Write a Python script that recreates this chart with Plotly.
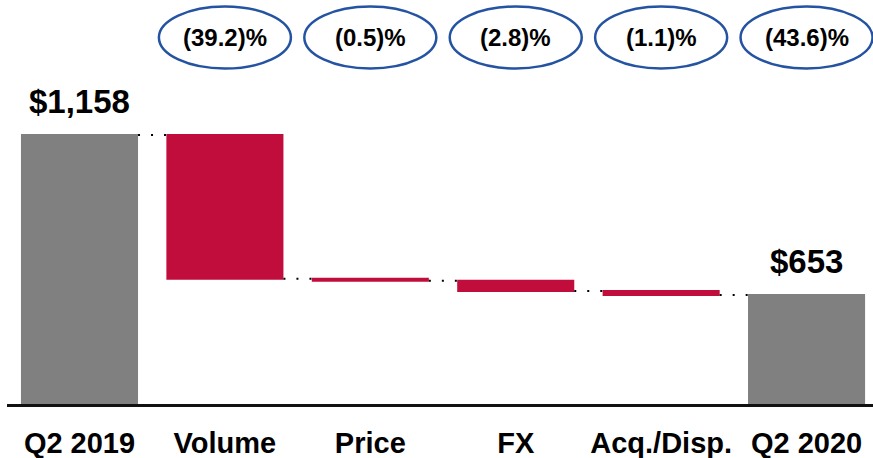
import plotly.graph_objects as go

# ---- data ----
categories = ["Q2 2019", "Volume", "Price", "FX", "Acq./Disp.", "Q2 2020"]
values = [1158, -454, -6, -32, -13, 653]
measures = ["absolute", "relative", "relative", "relative", "relative", "total"]
pct_labels = ["(39.2)%", "(0.5)%", "(2.8)%", "(1.1)%", "(43.6)%"]
pct_categories = ["Volume", "Price", "FX", "Acq./Disp.", "Q2 2020"]
total_labels = {"Q2 2019": 1158, "Q2 2020": 653}

RED = "#C10D3B"
GRAY = "#808080"
BLUE = "#2453A2"
FONT = "Liberation Sans"

fig = go.Figure()
fig.add_trace(go.Waterfall(
    x=categories,
    y=values,
    measure=measures,
    decreasing=dict(marker=dict(color=RED)),
    increasing=dict(marker=dict(color=RED)),
    totals=dict(marker=dict(color=GRAY)),
    connector=dict(mode="between", line=dict(color="black", width=2, dash="2px,11px")),
    hoverinfo="skip",
))

# value labels above the total bars
for cat, v in total_labels.items():
    fig.add_annotation(
        x=cat, y=v, xref="x", yref="y",
        text=f"${v:,}", showarrow=False,
        yanchor="bottom", yshift=13,
        font=dict(family=FONT, size=33, color="black", weight="bold"),
    )

# percentage ellipses across the top
ELL_CY = 1 - 37.5 / 404
for cat, lab in zip(pct_categories, pct_labels):
    fig.add_shape(
        type="circle", xref="x", yref="paper",
        xsizemode="pixel", xanchor=cat, x0=-66, x1=66,
        ysizemode="pixel", yanchor=ELL_CY, y0=-31, y1=31,
        line=dict(color=BLUE, width=2.5), fillcolor="rgba(0,0,0,0)",
    )
    fig.add_annotation(
        x=cat, xref="x", yref="paper", y=ELL_CY,
        text=lab, showarrow=False, yanchor="middle",
        font=dict(family=FONT, size=24, color="black", weight="bold"),
    )

fig.update_layout(
    width=873, height=458,
    margin=dict(l=7, r=0, t=0, b=54),
    plot_bgcolor="white", paper_bgcolor="white",
    showlegend=False,
    waterfallgap=0.195,
    xaxis=dict(
        range=[-0.4986, 5.457],
        showline=True, linecolor="#111111", linewidth=3,
        showgrid=False, zeroline=False, ticks="",
        ticklabelstandoff=11,
        tickfont=dict(family=FONT, size=29, color="black", weight="bold"),
        fixedrange=True,
    ),
    yaxis=dict(range=[309, 1584], visible=False, showgrid=False, fixedrange=True),
)

fig.write_html("out.html")
